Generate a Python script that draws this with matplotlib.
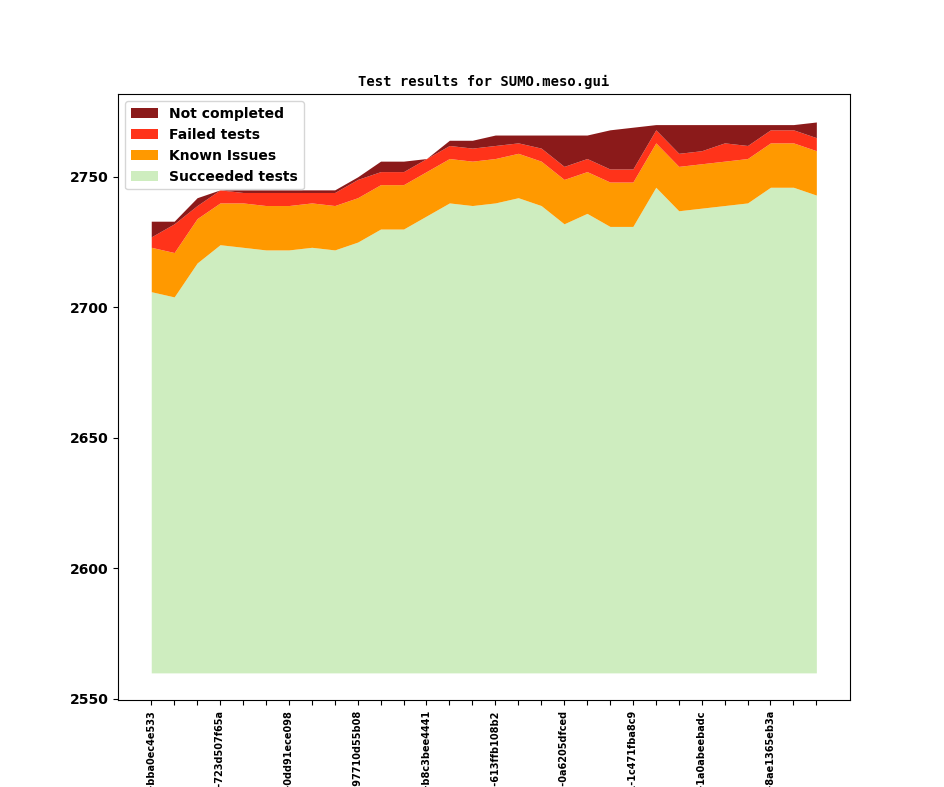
import matplotlib
matplotlib.use("Agg")
import matplotlib.pyplot as plt
import numpy as np

# builds (commit ids), only every third one gets a label
revisions = [
    "v1_19_0+0512-bba0ec4e533", "", "",
    "v1_19_0+0537-723d507f65a", "", "",
    "v1_19_0+0561-0dd91ece098", "", "",
    "v1_19_0+0590-97710d55b08", "", "",
    "v1_19_0+0618-b8c3bee4441", "", "",
    "v1_19_0+0644-613ffb108b2", "", "",
    "v1_19_0+0672-0a6205dfced", "", "",
    "v1_19_0+0701-1c471fba8c9", "", "",
    "v1_19_0+0729-1a0abeebadc", "", "",
    "v1_19_0+0755-8ae1365eb3a", "", "",
]

# cumulative totals
succeeded = [2706, 2704, 2717, 2724, 2723, 2722, 2722, 2723, 2722, 2725,
             2730, 2730, 2735, 2740, 2739, 2740, 2742, 2739, 2732, 2736,
             2731, 2731, 2746, 2737, 2738, 2739, 2740, 2746, 2746, 2743]
known_top = [2723, 2721, 2734, 2740, 2740, 2739, 2739, 2740, 2739, 2742,
             2747, 2747, 2752, 2757, 2756, 2757, 2759, 2756, 2749, 2752,
             2748, 2748, 2763, 2754, 2755, 2756, 2757, 2763, 2763, 2760]
failed_top = [2727, 2732, 2739, 2745, 2744, 2744, 2744, 2744, 2744, 2749,
              2752, 2752, 2757, 2762, 2761, 2762, 2763, 2761, 2754, 2757,
              2753, 2753, 2768, 2759, 2760, 2763, 2762, 2768, 2768, 2765]
total = [2733, 2733, 2742, 2745, 2745, 2745, 2745, 2745, 2745, 2750,
         2756, 2756, 2757, 2764, 2764, 2766, 2766, 2766, 2766, 2766,
         2768, 2769, 2770, 2770, 2770, 2770, 2770, 2770, 2770, 2771]
baseline = 2560

x = np.arange(len(succeeded))

fig, ax = plt.subplots(figsize=(9.44, 7.87), dpi=100)

p_succ = ax.fill_between(x, baseline, succeeded, color="#ceedbf", linewidth=0, label="Succeeded tests")
p_known = ax.fill_between(x, succeeded, known_top, color="#ff9900", linewidth=0, label="Known Issues")
p_fail = ax.fill_between(x, known_top, failed_top, color="#ff331a", linewidth=0, label="Failed tests")
p_nc = ax.fill_between(x, failed_top, total, color="#8b1a1a", linewidth=0, label="Not completed")

ax.set_title("Test results for SUMO.meso.gui", fontsize=10, fontweight="bold", family="monospace")

ax.set_xticks(x)
ax.set_xticklabels(revisions, rotation=90, fontsize=7, fontweight="bold")
for lbl in ax.get_yticklabels():
    lbl.set_fontweight("bold")

ax.legend([p_nc, p_fail, p_known, p_succ],
          ["Not completed", "Failed tests", "Known Issues", "Succeeded tests"],
          loc="upper left", prop={"weight": "bold", "size": 10})

fig.savefig("out.png", dpi=100)
